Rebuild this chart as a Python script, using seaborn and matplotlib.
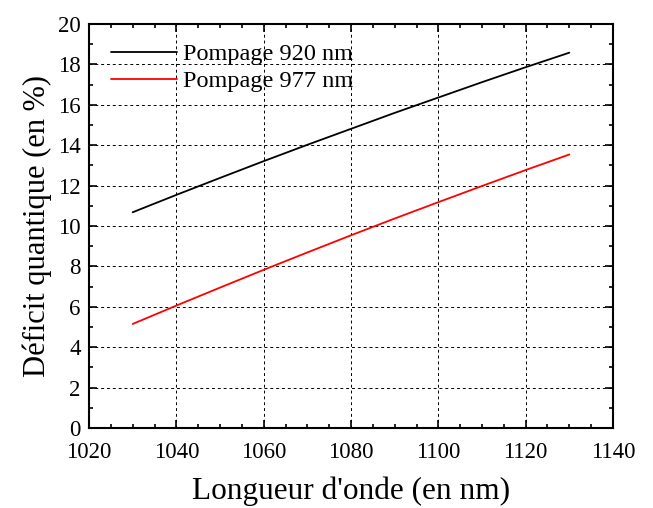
import numpy as np
import pandas as pd
import matplotlib
matplotlib.use('Agg')
import matplotlib.pyplot as plt
import matplotlib.ticker as ticker
import seaborn as sns

sns.set_style('ticks')
plt.rcParams['font.family'] = ['Liberation Serif', 'DejaVu Serif']
plt.rcParams.update({'text.color': 'black', 'axes.labelcolor': 'black',
                     'xtick.color': 'black', 'ytick.color': 'black',
                     'axes.edgecolor': 'black'})

# values
wavelength = [1030, 1040, 1050, 1060, 1070, 1080, 1090, 1100, 1110, 1120, 1130]
defect_920 = [10.68, 11.54, 12.38, 13.21, 14.02, 14.81, 15.60, 16.36, 17.12, 17.86, 18.58]
defect_977 = [5.15, 6.06, 6.95, 7.83, 8.69, 9.54, 10.37, 11.18, 11.98, 12.77, 13.54]
labels = ['Pompage 920 nm', 'Pompage 977 nm']

df = pd.DataFrame({
    'wl': wavelength * 2,
    'dq': defect_920 + defect_977,
    'serie': [labels[0]] * len(wavelength) + [labels[1]] * len(wavelength),
})

fig = plt.figure(figsize=(6.53, 5.08), dpi=100)
ax = fig.add_axes([89 / 653, 1 - 428 / 508, (613 - 89) / 653, (428 - 24) / 508])

sns.lineplot(data=df, x='wl', y='dq', hue='serie', palette=['black', 'red'],
             linewidth=1.3, ax=ax)

ax.set_xlim(1020, 1140)
ax.set_ylim(0, 20)
ax.xaxis.set_major_locator(ticker.MultipleLocator(20))
ax.xaxis.set_minor_locator(ticker.MultipleLocator(5))
ax.yaxis.set_major_locator(ticker.MultipleLocator(2))
ax.yaxis.set_minor_locator(ticker.MultipleLocator(1))
ax.tick_params(which='both', direction='in', top=True, right=True, labelsize=16.5,
               width=1.2)
ax.tick_params(axis='x', which='both', pad=10)
ax.tick_params(axis='y', which='both', pad=6)
ax.tick_params(which='major', length=6)
ax.tick_params(which='minor', length=3)
for s in ax.spines.values():
    s.set_linewidth(1.5)
    s.set_visible(True)
ax.grid(True, which='major', color='black', linestyle=(0, (3, 3)), linewidth=0.7)

ax.set_xlabel("Longueur d'onde (en nm)", fontsize=22.5, labelpad=10)
ax.set_ylabel('Déficit quantique (en %)', fontsize=22, labelpad=4)

leg = ax.legend(loc='upper left', frameon=False, fontsize=17.5, handlelength=2.7,
                handletextpad=0.25, labelspacing=0.2, borderaxespad=0.4,
                bbox_to_anchor=(0.005, 1.0))
for h in leg.get_lines():
    h.set_linewidth(1.3)

fig.savefig('out.png', dpi=100)
